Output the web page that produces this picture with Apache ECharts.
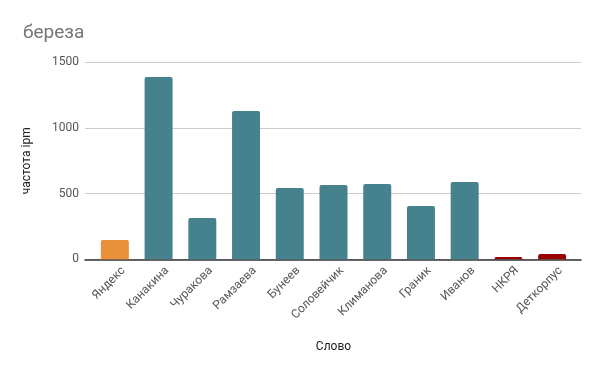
<!DOCTYPE html>
<html><head><meta charset="utf-8">
<script src="https://cdn.jsdelivr.net/npm/echarts@6/dist/echarts.min.js"></script>
<style>html,body{margin:0;padding:0;background:#fff}#c{width:600px;height:371px}</style>
</head><body><div id="c"></div>
<script>
const categories = ['Яндекс','Канакина','Чуракова','Рамзаева','Бунеев','Соловейчик','Климанова','Граник','Иванов','НКРЯ','Деткорпус'];
const values = [147, 1388, 314, 1129, 543, 566, 573, 406, 589, 18, 40];
const barColors = ['#e8913a','#46818e','#46818e','#46818e','#46818e','#46818e','#46818e','#46818e','#46818e','#990000','#990000'];
const yTicks = [0, 500, 1000, 1500];

const chart = echarts.init(document.getElementById('c'), null, {renderer:'canvas'});
chart.setOption({
  animation:false,
  title:{text:'береза', left:18, top:19, textStyle:{fontFamily:'Roboto', fontSize:19, fontWeight:'normal', color:'#757575'}},
  grid:[
    {left:93, right:26, top:62.3, bottom:111.7},
    {left:85, right:19, top:62.3, bottom:111.7}
  ],
  xAxis:[
    {type:'category', data:categories, gridIndex:0,
    name:'Слово', nameLocation:'middle', nameGap:82,
    nameTextStyle:{fontFamily:'Roboto', fontSize:12, color:'#222'},
    axisLine:{show:false}, axisTick:{show:false},
    axisLabel:{rotate:45, interval:0, margin:18, padding:[0,-12,0,0], fontFamily:'Roboto', fontSize:12, color:'#555'}},
    {type:'value', gridIndex:1, min:0, max:1, axisLabel:{show:false}, axisTick:{show:false}, splitLine:{show:false},
    axisLine:{show:true, onZero:false, lineStyle:{color:'#333', width:1.5}}}
  ],
  yAxis:[
    {type:'value', gridIndex:0, min:yTicks[0], max:yTicks[yTicks.length-1], interval:500,
    name:'частота ipm', nameLocation:'middle', nameGap:60,
    nameTextStyle:{fontFamily:'Roboto', fontSize:12, color:'#222'},
    axisLine:{show:false}, axisTick:{show:false},
    axisLabel:{margin:14, fontFamily:'Roboto', fontSize:12, color:'#555', formatter:v=>String(v)},
    splitLine:{show:false}},
    {type:'value', gridIndex:1, min:yTicks[0], max:yTicks[yTicks.length-1], interval:500,
    axisLine:{show:false}, axisTick:{show:false}, axisLabel:{show:false},
    splitLine:{lineStyle:{color:'#cccccc'}}}
  ],
  series:[{type:'bar', xAxisIndex:0, yAxisIndex:0, barCategoryGap:'36%', z:3,
    data: values.map((v,i)=>({value:v, itemStyle:{color:barColors[i], borderRadius:[2,2,0,0]}}))}]
});
</script></body></html>
